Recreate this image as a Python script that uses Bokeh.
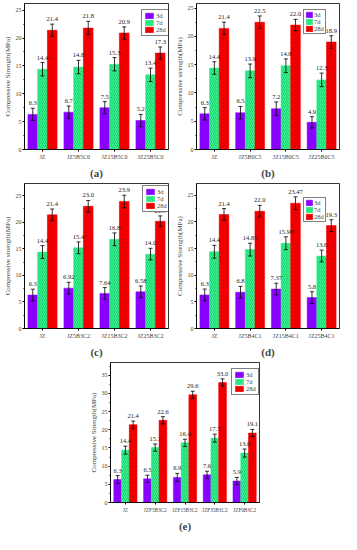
from bokeh.plotting import figure
from bokeh.models import (ColumnDataSource, Whisker, TeeHead, Legend, LegendItem,
                          SingleIntervalTicker, Range1d, FactorRange, Spacer)
from bokeh.transform import dodge
from bokeh.layouts import column, row
from bokeh.core.properties import value
from bokeh.embed import file_html
from bokeh.resources import INLINE

series = ["3d", "7d", "28d"]

# (a)
cats_a = ["JZ", "JZ5B5C0", "JZ15B5C0", "JZ25B5C0"]
a_3d = [6.3, 6.7, 7.5, 5.2]
a_7d = [14.4, 14.8, 15.3, 13.4]
a_28d = [21.4, 21.8, 20.9, 17.3]
a_e3 = [1.1, 1.1, 1.1, 1.1]
a_e7 = [1.2, 1.2, 1.2, 1.2]
a_e28 = [1.1, 1.2, 1.1, 1.1]
a_l3 = ["6.3", "6.7", "7.5", "5.2"]
a_l7 = ["14.4", "14.8", "15.3", "13.4"]
a_l28 = ["21.4", "21.8", "20.9", "17.3"]

# (b)
cats_b = ["JZ", "JZ5B0C5", "JZ15B0C5", "JZ25B0C5"]
b_3d = [6.3, 6.5, 7.2, 4.8]
b_7d = [14.4, 13.9, 14.8, 12.3]
b_28d = [21.4, 22.5, 22.0, 19.0]
b_e3 = [1.1, 1.1, 1.2, 1.0]
b_e7 = [1.1, 1.2, 1.2, 1.2]
b_e28 = [1.1, 1.1, 1.0, 1.1]
b_l3 = ["6.3", "6.5", "7.2", "4.9"]
b_l7 = ["14.4", "13.9", "14.8", "12.3"]
b_l28 = ["21.4", "22.5", "22.0", "18.9"]

# (c)
cats_c = ["JZ", "JZ5B3C2", "JZ15B3C2", "JZ25B3C2"]
c_3d = [6.3, 7.6, 6.6, 6.9]
c_7d = [14.4, 15.2, 16.8, 14.0]
c_28d = [21.4, 23.0, 23.9, 20.2]
c_e3 = [1.1, 1.1, 1.1, 1.1]
c_e7 = [1.2, 1.1, 1.2, 1.1]
c_e28 = [1.1, 1.1, 1.2, 1.0]
c_l3 = ["6.3", "6.92", "7.64", "6.58"]
c_l7 = ["14.4", "15.4", "16.8", "14.0"]
c_l28 = ["21.4", "23.0", "23.9", "20.9"]

# (d)
cats_d = ["JZ", "JZ5B4C1", "JZ15B4C1", "JZ25B4C1"]
d_3d = [6.3, 6.8, 7.4, 5.8]
d_7d = [14.4, 14.8, 16.0, 13.6]
d_28d = [21.4, 22.0, 23.5, 19.3]
d_e3 = [1.1, 1.1, 1.1, 1.1]
d_e7 = [1.2, 1.2, 1.2, 1.1]
d_e28 = [1.1, 1.1, 1.2, 1.1]
d_l3 = ["6.3", "6.8", "7.37", "5.8"]
d_l7 = ["14.4", "14.85", "15.98", "13.6"]
d_l28 = ["21.4", "22.0", "23.47", "19.3"]

# (e)
cats_e = ["JZ", "JZF5B3C2", "JZF15B3C2", "JZF35B3C2", "JZF0B3C2"]
e_3d = [6.3, 6.5, 6.9, 7.6, 5.9]
e_7d = [14.4, 15.1, 16.4, 17.7, 13.6]
e_28d = [21.4, 22.6, 29.6, 33.0, 19.1]
e_e3 = [1.1, 1.0, 1.1, 1.0, 1.0]
e_e7 = [1.1, 1.0, 1.0, 1.1, 1.1]
e_e28 = [1.0, 1.0, 1.0, 1.0, 1.0]
e_l3 = ["6.3", "6.5", "6.9", "7.6", "5.9"]
e_l7 = ["14.4", "15.1", "16.4", "17.7", "13.6"]
e_l28 = ["21.4", "22.6", "29.6", "33.0", "19.1"]

FONT = "Liberation Serif"
COLORS = ["#8a00ff", "#35f58f", "#ff0000"]
HATCH = [None, "/", "x"]
HATCH_COLORS = ["#6a00cc", "#10b860", "#b00000"]
LEG_H = 31


def panel(cats, vals, errs, lbls, ymax, ylabel, tag, width, height,
          bl, br, bt, bb, leg_gap, cat_font="6px", bar_w=0.27, compact=False):
    p = figure(x_range=FactorRange(factors=cats, range_padding=0),
               y_range=Range1d(0, ymax), width=width, height=height,
               output_backend="svg", toolbar_location=None,
               min_border_left=bl, min_border_right=br,
               min_border_top=bt, min_border_bottom=bb)
    p.xgrid.visible = False
    p.ygrid.visible = False
    p.outline_line_color = "black"
    p.outline_line_width = 0.8
    p.background_fill_color = "white"
    p.border_fill_color = "white"
    offs = [-bar_w, 0.0, bar_w]
    items = []
    sources = []
    for i, name in enumerate(series):
        v = vals[i]
        e = errs[i]
        src = ColumnDataSource(dict(
            cat=cats, top=v,
            up=[a + b for a, b in zip(v, e)],
            lo=[a - b for a, b in zip(v, e)],
            lbl=lbls[i]))
        sources.append(src)
        kw = {}
        if HATCH[i]:
            kw = dict(hatch_pattern=HATCH[i], hatch_color=HATCH_COLORS[i],
                      hatch_scale=4, hatch_weight=0.6)
        r = p.vbar(x=dodge("cat", offs[i], range=p.x_range), top="top",
                   width=bar_w, source=src, fill_color=COLORS[i],
                   line_color=COLORS[i], line_width=0.5, **kw)
        items.append(LegendItem(label=name, renderers=[r]))
    for i, src in enumerate(sources):
        w = Whisker(source=src, base=dodge("cat", offs[i], range=p.x_range),
                    upper="up", lower="lo", line_color="black", line_width=0.8,
                    upper_head=TeeHead(size=4, line_color="black", line_width=0.8),
                    lower_head=TeeHead(size=4, line_color="black", line_width=0.8),
                    level="overlay")
        p.add_layout(w)
    for i, src in enumerate(sources):
        t = p.text(x=dodge("cat", offs[i], range=p.x_range), y="up", text="lbl",
                   source=src, text_align="center", text_baseline="bottom",
                   y_offset=-3, text_font=value(FONT), text_font_size="6.5px",
                   text_color="#222222")
        t.level = "overlay"
    fw = width - bl - br
    fh = height - bt - bb
    rg, tg = leg_gap
    gw, pad, stand = (8, 1, 1) if compact else (10, 2, 2)
    leg_w = 25 if compact else 31
    leg = Legend(items=items, location=(fw - rg - leg_w, fh - tg - LEG_H),
                 label_text_font=FONT,
                 label_text_font_size="6.5px", glyph_width=gw, glyph_height=7,
                 label_height=7, label_width=8, spacing=0, padding=pad, margin=0,
                 label_standoff=stand, border_line_color="black", border_line_width=0.6,
                 background_fill_alpha=1.0)
    p.add_layout(leg)

    ya = p.yaxis[0]
    ya.ticker = SingleIntervalTicker(interval=5, num_minor_ticks=2)
    ya.axis_label = ylabel
    ya.axis_label_text_font = FONT
    ya.axis_label_text_font_size = "7px"
    ya.axis_label_text_font_style = "normal"
    ya.axis_label_standoff = 1
    ya.major_label_text_font = FONT
    ya.major_label_text_font_size = "6px"
    ya.major_label_standoff = 1
    ya.major_tick_out = 2
    ya.major_tick_in = 0
    ya.minor_tick_out = 1
    ya.minor_tick_in = 0
    ya.axis_line_width = 0.8

    xa = p.xaxis[0]
    xa.axis_label = tag
    xa.axis_label_text_font = FONT
    xa.axis_label_text_font_size = "11px"
    xa.axis_label_text_font_style = "bold"
    xa.axis_label_standoff = 4
    xa.major_label_text_font = FONT
    xa.major_label_text_font_size = cat_font
    xa.major_label_standoff = 2
    xa.major_tick_out = 2
    xa.major_tick_in = 0
    xa.axis_line_width = 0.8
    return p


fa = panel(cats_a, [a_3d, a_7d, a_28d], [a_e3, a_e7, a_e28], [a_l3, a_l7, a_l28],
           26.2, "Compressive Strength(MPa)", "(a)", 172, 181, 18, 4, 3, 28, (2, 6))
fb = panel(cats_b, [b_3d, b_7d, b_28d], [b_e3, b_e7, b_e28], [b_l3, b_l7, b_l28],
           25.8, "Compressive strength(MPa)", "(b)", 169, 181, 18, 2, 3, 28, (17, 4),
           compact=True)
fc = panel(cats_c, [c_3d, c_7d, c_28d], [c_e3, c_e7, c_e28], [c_l3, c_l7, c_l28],
           27.3, "Compressive strength(MPa)", "(c)", 172, 179, 18, 4, 2, 28, (1, 2))
fd = panel(cats_d, [d_3d, d_7d, d_28d], [d_e3, d_e7, d_e28], [d_l3, d_l7, d_l28],
           27.2, "Compressive Strength(MPa)", "(d)", 169, 179, 18, 2, 2, 28, (17, 12),
           compact=True)
fe = panel(cats_e, [e_3d, e_7d, e_28d], [e_e3, e_e7, e_e28], [e_l3, e_l7, e_l28],
           38.5, "Compressive Strength(MPa)", "(e)", 177, 174, 18, 4, 2, 24, (3, 10),
           cat_font="5.2px", bar_w=0.26)

layout = column(row(fa, fb), row(fc, fd), row(Spacer(width=86, height=174), fe))

open("out.html", "w").write(file_html(layout, INLINE))
